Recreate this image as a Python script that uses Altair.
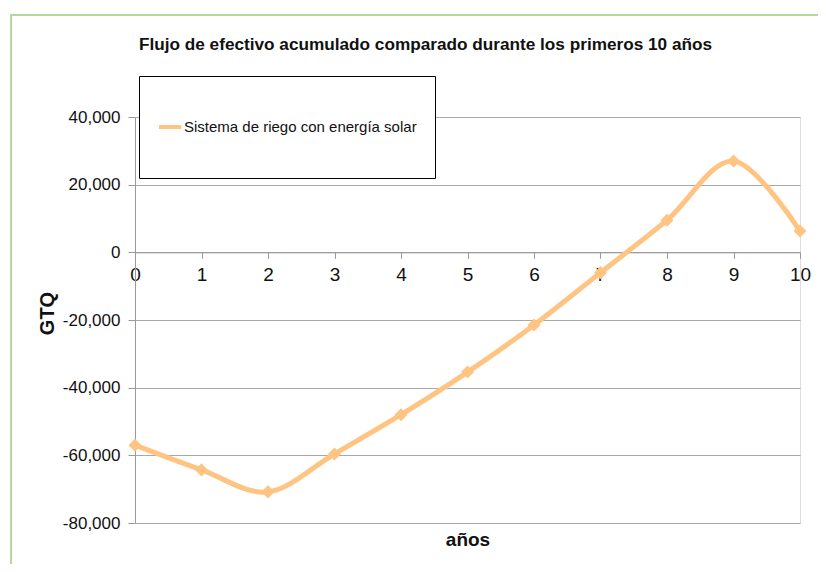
import altair as alt
import pandas as pd

years = [0, 1, 2, 3, 4, 5, 6, 7, 8, 9, 10]
flujo = [-57000, -64300, -70800, -59600, -48000, -35400, -21500, -6000, 9500, 27000, 6300]
serie = "Sistema de riego con energía solar"
y_ticks = [-80000, -60000, -40000, -20000, 0, 20000, 40000]
x_ticks = [0, 1, 2, 3, 4, 5, 6, 7, 8, 9, 10]
line_color = "#ffc382"

df = pd.DataFrame({"año": years, "GTQ": flujo, "serie": [serie] * len(years)})

W, H = 665, 406
ymin, ymax = -80000, 40000
zero_offset = -H * (0 - ymin) / (ymax - ymin)
FONT = "Liberation Sans"

x_enc = alt.X(
    "año:Q",
    scale=alt.Scale(domain=[0, 10], nice=False, zero=False),
    axis=alt.Axis(
        values=x_ticks, format="d", grid=False, offset=zero_offset,
        domainColor="#9a9a9a", tickColor="#9a9a9a", tickSize=6,
        labelFontSize=19, labelPadding=7, labelFlush=False, labelColor="#111",
        labelFont=FONT,
        title="años", titleFontSize=19, titleFont=FONT, titleFontWeight="bold",
        titleY=293, titleBaseline="alphabetic", titleColor="#111",
    ),
)
y_enc = alt.Y(
    "GTQ:Q",
    scale=alt.Scale(domain=[ymin, ymax], nice=False),
    axis=alt.Axis(
        values=y_ticks, grid=True, gridColor="#a8a8a8",
        labelExpr="(datum.value < 0 ? '-' : '') + format(abs(datum.value), ',')",
        domainColor="#9a9a9a", tickColor="#9a9a9a", tickSize=7,
        labelFontSize=17, labelPadding=8, labelColor="#111", labelFont=FONT,
        title="GTQ", titleFontSize=20, titleFont=FONT, titleFontWeight="bold",
        titleX=-88, titleY=196, titleAngle=270, titleBaseline="middle",
        titleAlign="center", titleColor="#111",
    ),
)
color_enc = alt.Color(
    "serie:N",
    scale=alt.Scale(range=[line_color]),
    legend=alt.Legend(
        title=None, orient="none", legendX=4, legendY=-41,
        strokeColor="#000", fillColor="#fff", padding=18,
        symbolType="stroke", symbolStrokeWidth=4, symbolSize=484,
        symbolStrokeColor=line_color, labelOffset=1, clipHeight=66,
        labelFontSize=15, labelFont=FONT, labelColor="#111", labelLimit=400,
    ),
)

frame = alt.Chart(alt.Data(values=[{"a": 1}])).mark_rect(
    fill="#ffffff", fillOpacity=0, stroke="#b7d79f", strokeWidth=2
).encode(
    x=alt.value(-124), x2=alt.value(900), y=alt.value(-102), y2=alt.value(700)
)

line = alt.Chart(df).mark_line(
    interpolate="cardinal", tension=0, strokeWidth=5
).encode(x=x_enc, y=y_enc, color=color_enc)

points = alt.Chart(df).mark_point(
    shape="diamond", filled=True, size=170, opacity=1
).encode(x=x_enc, y=y_enc, color=color_enc)

chart = alt.layer(frame, line, points).properties(
    width=W, height=H,
    autosize=alt.AutoSizeParams(type="none"),
    padding={"left": 127, "top": 109, "right": 18, "bottom": 41},
    title=alt.TitleParams(
        "Flujo de efectivo acumulado comparado durante los primeros 10 años",
        fontSize=17.2, font=FONT, fontWeight="bold", color="#111",
        anchor="middle", dx=-42, dy=53, baseline="alphabetic", offset=0,
    ),
).configure_view(stroke=None).configure(background="white")

chart.save("out.html", embed_options={"renderer": "svg", "actions": False})
